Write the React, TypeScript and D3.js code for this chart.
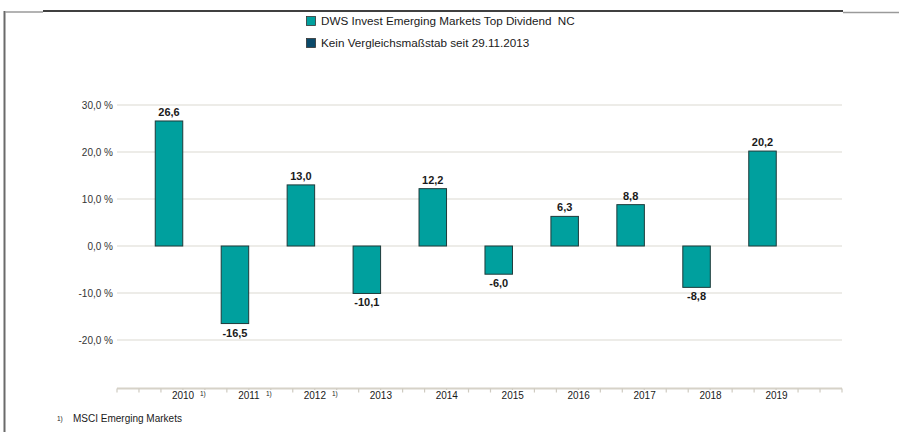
import React from "react";
import * as d3 from "d3";

const years = ["2010", "2011", "2012", "2013", "2014", "2015", "2016", "2017", "2018", "2019"];
const values = [26.6, -16.5, 13.0, -10.1, 12.2, -6.0, 6.3, 8.8, -8.8, 20.2];
const footnoted = ["2010", "2011", "2012"];
const yTicks = [30, 20, 10, 0, -10, -20];
const legendItems = ["DWS Invest Emerging Markets Top Dividend  NC", "Kein Vergleichsmaßstab seit 29.11.2013"];
const legendColors = ["#00a09e", "#0a4a6a"];
const footnoteText = "MSCI Emerging Markets";

const W = 899;
const H = 432;
const FONT = "'Liberation Sans', Arial, sans-serif";

export default function App() {
  const x = d3.scalePoint<string>().domain(years).range([169, 762.5]);
  const y = d3.scaleLinear().domain([-20, 30]).range([340, 105]);
  const gridX0 = 117;
  const gridX1 = 842;
  const axisY = 388.5;
  const tickScale = d3.scaleLinear().domain([0, 33]).range([gridX0, gridX1]);
  const tickIdx = d3.range(0, 34);
  const barW = 27.5;
  const fmt = (v: number) => d3.format(".1f")(v).replace(".", ",").replace("−", "-");

  return (
    <svg width={W} height={H} style={{ position: "absolute", left: 0, top: 0, background: "#fff" }} fontFamily={FONT}>
      {/* frame */}
      <line x1={4.5} x2={4.5} y1={11} y2={H} stroke="#6a6a6a" strokeWidth={2} />
      <line x1={5} x2={43} y1={12} y2={12} stroke="#9a9a9a" strokeWidth={1.5} />
      <line x1={43} x2={843} y1={11} y2={11} stroke="#000" strokeWidth={1.3} />
      <line x1={843} x2={W} y1={12.5} y2={12.5} stroke="#9a9a9a" strokeWidth={1.5} />

      {/* legend */}
      {legendItems.map((t, i) => (
        <g key={t} transform={`translate(306, ${16 + i * 22})`}>
          <rect x={0.5} y={0.5} width={9} height={9} fill={legendColors[i]} stroke="#333" strokeWidth={0.8} />
          <text x={15} y={9.2} fontSize={11.7} fill="#1a1a1a" style={{ whiteSpace: "pre" }}>{t}</text>
        </g>
      ))}

      {/* grid */}
      {yTicks.map((t) => (
        <g key={t}>
          <line x1={gridX0} x2={gridX1} y1={y(t)} y2={y(t)} stroke="#dcd9d2" strokeWidth={1.2} />
          <text x={113} y={y(t) + 3.5} fontSize={10} textAnchor="end" fill="#333">
            {fmt(t) + " %"}
          </text>
        </g>
      ))}

      {/* bars */}
      {years.map((yr, i) => {
        const v = values[i];
        const top = y(Math.max(0, v));
        const h = Math.abs(y(v) - y(0));
        return (
          <g key={yr}>
            <rect x={(x(yr) as number) - barW / 2} y={top} width={barW} height={h} fill="#00a09e" stroke="#1e3a3a" strokeWidth={1} />
            <text
              x={x(yr) as number}
              y={v >= 0 ? y(v) - 5 : y(v) + 13}
              fontSize={11}
              fontWeight="bold"
              textAnchor="middle"
              fill="#1a1a1a"
            >
              {fmt(v)}
            </text>
          </g>
        );
      })}

      {/* x axis */}
      <line x1={gridX0} x2={gridX1} y1={axisY} y2={axisY} stroke="#d6d2c8" strokeWidth={2} />
      {tickIdx.map((i) => (
        <line key={i} x1={tickScale(i)} x2={tickScale(i)} y1={axisY} y2={axisY + 4} stroke="#cfcbc1" strokeWidth={1.2} />
      ))}
      {years.map((yr) => {
        const cx = (x(yr) as number) + 14;
        return (
          <g key={yr}>
            <rect x={cx - 14} y={axisY + 1.5} width={28} height={10} fill="#fff" />
            <text x={cx} y={axisY + 10} fontSize={10} textAnchor="middle" fill="#1a1a1a">{yr}</text>
            {footnoted.includes(yr) && (
              <>
                <rect x={cx + 16} y={axisY + 1.5} width={9} height={6} fill="#fff" />
                <text x={cx + 17} y={axisY + 7} fontSize={6.5} fill="#1a1a1a">1)</text>
              </>
            )}
          </g>
        );
      })}

      {/* footnote */}
      <text x={57} y={421} fontSize={6.5} fill="#1a1a1a">1)</text>
      <text x={73} y={422} fontSize={10} fill="#1a1a1a">{footnoteText}</text>
    </svg>
  );
}
